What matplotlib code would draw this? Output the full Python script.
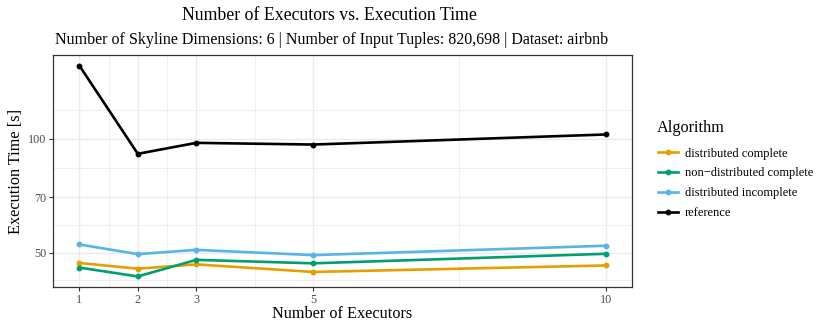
import matplotlib
matplotlib.use("Agg")
import matplotlib.pyplot as plt
import numpy as np
from matplotlib.ticker import FixedLocator, NullFormatter, FixedFormatter

plt.rcParams['font.family'] = ['Liberation Serif', 'DejaVu Serif']

executors = [1, 2, 3, 5, 10]
series_names = ["distributed complete", "non\u2212distributed complete",
                "distributed incomplete", "reference"]
dist_complete = [47.0, 45.4, 46.6, 44.5, 46.3]
nondist_complete = [45.7, 43.3, 47.9, 46.9, 49.7]
dist_incomplete = [52.6, 49.6, 50.9, 49.3, 52.2]
reference = [156.2, 91.3, 97.6, 96.6, 102.7]
colors = ["#E69F00", "#009E73", "#56B4E9", "#000000"]
y_breaks = [50, 70, 100]
x_breaks = [1, 2, 3, 5, 10]

W, H = 830, 332
fig = plt.figure(figsize=(W / 100, H / 100), dpi=100)
L, R, T, B = 53, 632, 55, 287
ax = fig.add_axes([L / W, 1 - B / H, (R - L) / W, (B - T) / H])

all_series = [dist_complete, nondist_complete, dist_incomplete, reference]
for name, vals, c in zip(series_names, all_series, colors):
    ax.plot(executors, vals, color=c, lw=1.9, marker='o', ms=3.2,
            solid_joinstyle='round', label=name, zorder=3)

ax.set_yscale('log')
# ggplot-like expansion (5%) in transformed space
allv = np.log10(np.concatenate([np.array(s) for s in all_series]))
lo, hi = allv.min(), allv.max()
pad = (hi - lo) * 0.05
ax.set_ylim(10 ** (lo - pad), 10 ** (hi + pad))
xr = max(executors) - min(executors)
ax.set_xlim(min(executors) - 0.05 * xr, max(executors) + 0.05 * xr)

ax.yaxis.set_major_locator(FixedLocator(y_breaks))
ax.yaxis.set_major_formatter(FixedFormatter([str(v) for v in y_breaks]))
lb = np.log10(y_breaks)
mids = (lb[:-1] + lb[1:]) / 2
step = mids[1] - mids[0]
ymin_minor = list(10 ** np.array([lb[0] - (lb[1] - lb[0]) / 2, *mids,
                                 lb[-1] + (lb[-1] - lb[-2]) / 2,
                                 lb[-1] + (lb[-1] - lb[-2]) / 2 + step]))
ax.yaxis.set_minor_locator(FixedLocator(ymin_minor))
ax.yaxis.set_minor_formatter(NullFormatter())
ax.xaxis.set_major_locator(FixedLocator(x_breaks))
xm = [(x_breaks[i] + x_breaks[i + 1]) / 2 for i in range(len(x_breaks) - 1)]
ax.xaxis.set_minor_locator(FixedLocator(xm))

ax.grid(which='major', color='#EBEBEB', lw=1.0, zorder=0)
ax.grid(which='minor', color='#EBEBEB', lw=0.55, zorder=0)
ax.set_axisbelow(True)
ax.tick_params(which='minor', length=0)
ax.tick_params(which='major', length=3, width=0.8, color='#333333',
               labelsize=8.7, labelcolor='#4D4D4D', pad=2)
for s in ax.spines.values():
    s.set_color('#333333')
    s.set_linewidth(0.9)

ax.set_xlabel("Number of Executors", fontsize=11.7, labelpad=0)
ax.set_ylabel("Execution Time [s]", fontsize=11.7, labelpad=3)

fig.text(329 / W, 1 - 16 / H, "Number of Executors vs. Execution Time",
         ha='center', va='center', fontsize=12.8)
fig.text(331.5 / W, 1 - 40 / H,
         "Number of Skyline Dimensions: 6 | Number of Input Tuples: 820,698 | Dataset: airbnb",
         ha='center', va='center', fontsize=11.5)

fig.text(657 / W, 1 - 128 / H, "Algorithm", ha='left', va='center',
         fontsize=11.7)
leg = fig.legend(loc='upper left', bbox_to_anchor=(658 / W, 1 - 147.5 / H),
                 frameon=False, fontsize=9.0,
                 handlelength=1.6, handletextpad=0.55,
                 labelspacing=0.63, borderaxespad=0, borderpad=0)

fig.savefig("out.png", dpi=100)
